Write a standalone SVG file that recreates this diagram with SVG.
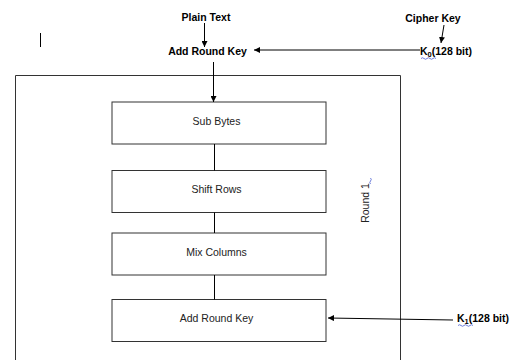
<svg xmlns="http://www.w3.org/2000/svg" width="517" height="360" viewBox="0 0 517 360">
<defs>
<marker id="ah" viewBox="0 0 10 10" refX="10" refY="5" markerWidth="6" markerHeight="6" markerUnits="userSpaceOnUse" orient="auto">
<path d="M0,0 L10,5 L0,10 z" fill="#000"/>
</marker>
<style>
.box{fill:#fff;stroke:#333;stroke-width:1}
.frame{fill:none;stroke:#333;stroke-width:1}
.ln{stroke:#000;stroke-width:1;fill:none}
.arr{stroke:#000;stroke-width:1;fill:none;marker-end:url(#ah)}
.lbl{font-family:"Liberation Sans",Arial,sans-serif;font-size:10.5px;fill:#222;text-anchor:middle}
.bold{font-family:"Liberation Sans",Arial,sans-serif;font-size:10.5px;font-weight:bold;fill:#000}
.sq{stroke:#4a5fd0;stroke-width:0.8;fill:none}
</style>
</defs>
<rect width="517" height="360" fill="#fff"/>
<line x1="40.5" y1="33" x2="40.5" y2="47" stroke="#000" stroke-width="1"/>
<path class="frame" d="M15.5,362 V75.5 H400.5 V362"/>
<g id="plain-text"><text class="bold" x="206" y="21" text-anchor="middle">Plain Text</text></g>
<g id="cipher-key"><text class="bold" x="433" y="22" text-anchor="middle">Cipher Key</text></g>
<g id="add-round-key-0"><text class="bold" x="207.5" y="55" text-anchor="middle">Add Round Key</text></g>
<g id="k0"><text class="bold" x="420" y="55">K<tspan font-size="7.5" dy="2">0</tspan><tspan dy="-2">(128 bit)</tspan></text>
<path class="sq" d="M421,58.5 q1.5,-1.5 3,0 t3,0 t3,0 t3,0 t3,0"/></g>
<g id="k1"><text class="bold" x="457" y="322">K<tspan font-size="7.5" dy="2">1</tspan><tspan dy="-2">(128 bit)</tspan></text>
<path class="sq" d="M458,325.5 q1.5,-1.5 3,0 t3,0 t3,0 t3,0 t3,0"/></g>
<g id="sub-bytes"><rect class="box" x="112" y="102" width="214" height="42"/><text class="lbl" x="216.5" y="125">Sub Bytes</text></g>
<g id="shift-rows"><rect class="box" x="112" y="170.5" width="214" height="42"/><text class="lbl" x="216.5" y="193">Shift Rows</text></g>
<g id="mix-columns"><rect class="box" x="112" y="233" width="214" height="42"/><text class="lbl" x="216.5" y="256">Mix Columns</text></g>
<g id="add-round-key-1"><rect class="box" x="112" y="299.5" width="214" height="42"/><text class="lbl" x="216.5" y="322">Add Round Key</text></g>
<g id="round-1"><text class="lbl" transform="translate(369,203) rotate(-90)">Round 1</text>
<path class="sq" d="M370.5,184 q-1.5,-1.5 0,-3 t0,-3"/></g>
<g id="connectors">
<line class="arr" x1="204.5" y1="23" x2="204.5" y2="47"/>
<line class="arr" x1="444" y1="25" x2="441" y2="43"/>
<line class="arr" x1="420" y1="50" x2="254" y2="50"/>
<line class="arr" x1="213.5" y1="62" x2="213.5" y2="102"/>
<line class="ln" x1="214.5" y1="144" x2="214.5" y2="170.5"/>
<line class="ln" x1="214.5" y1="212.5" x2="214.5" y2="233"/>
<line class="ln" x1="214.5" y1="275" x2="214.5" y2="299.5"/>
<line class="arr" x1="453" y1="320" x2="328" y2="318"/>
</g>
</svg>
